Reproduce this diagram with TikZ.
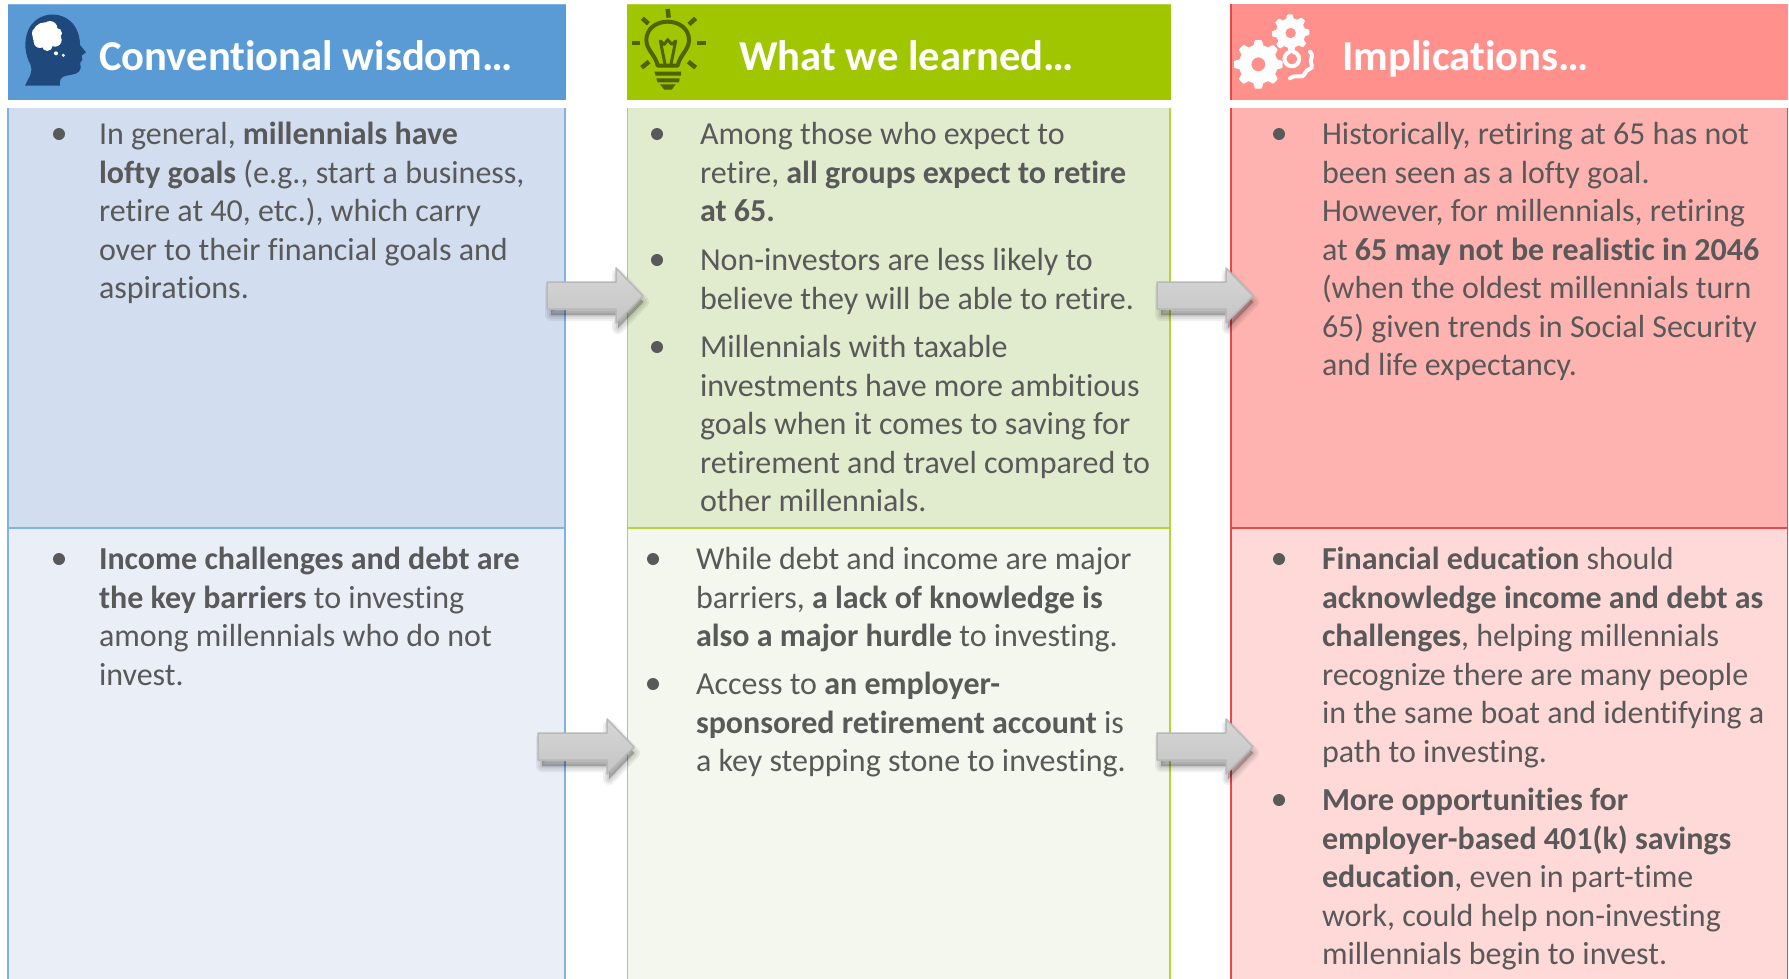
\documentclass[tikz,border=0pt]{standalone}
\usepackage{fontspec}
\setmainfont{Carlito}[Ligatures=NoCommon]
\usetikzlibrary{calc}
\definecolor{txt}{HTML}{595959}
\definecolor{bluehead}{HTML}{5B9BD5}
\definecolor{blueone}{HTML}{D2DEEF}
\definecolor{bluetwo}{HTML}{E9EEF7}
\definecolor{blueline}{HTML}{7FB2E5}
\definecolor{headdark}{HTML}{1F497D}
\definecolor{greenhead}{HTML}{A0C600}
\definecolor{greenone}{HTML}{E1EBCE}
\definecolor{greentwo}{HTML}{F3F7ED}
\definecolor{greenline}{HTML}{B5D33D}
\definecolor{bulbdark}{HTML}{4F6300}
\definecolor{redhead}{HTML}{FF908B}
\definecolor{redone}{HTML}{FFB3B0}
\definecolor{redtwo}{HTML}{FFD9D8}
\definecolor{redline}{HTML}{E8474C}
\tikzset{
  x=1pt,y=-1pt,
  para/.style={anchor=north west,inner sep=0pt,outer sep=0pt,align=left,text=txt,yshift=1.5pt,
    font=\fontsize{32}{38.5}\selectfont,execute at begin node=\strut},
  headtext/.style={anchor=base west,inner sep=0pt,text=white,font=\fontsize{42.6}{48}\selectfont\bfseries},
  bulletdot/.style={circle,fill=txt,inner sep=0pt,minimum size=12pt},
  rays/.style={line width=4.5pt,bulbdark},
  bulbline/.style={line width=4pt,bulbdark,line join=round,line cap=round},
  pics/blockarrow/.style={code={
    \foreach \w in {12,8,4,1}{
      \fill[black,opacity=.06,draw=black,line width=\w pt,line join=round]
       (4,6) -- (4,33) -- (71,33) -- (71,46) -- (96,20) -- (71,-7) -- (71,6) -- cycle;}
    \draw[draw=black!28,line width=1.5pt,top color=black!16,bottom color=black!23,line join=round]
       (0,0) -- (0,27) -- (69,27) -- (69,41) -- (96,14) -- (69,-14) -- (69,0) -- cycle;
  }}
}
\newcommand{\gearicon}[6]{% cx cy outer root hole phase
  \fill[white,even odd rule] plot[domain=0:360,samples=160,smooth cycle]
    ({#1+(#4+(#3-#4)*0.5*(1+max(-1,min(1,2.2*cos(8*\x+#6)))))*cos(\x)},
     {#2+(#4+(#3-#4)*0.5*(1+max(-1,min(1,2.2*cos(8*\x+#6)))))*sin(\x)})
    (#1+#5,#2) arc[start angle=0,end angle=360,radius=#5];}
\begin{document}
\begin{tikzpicture}
\useasboundingbox (0,0) rectangle (1789,978);
\fill[white] (0,0) rectangle (1789,978);
% panels
\fill[bluehead] (8,4) rectangle (565.5,100);
\fill[greenhead] (627,4) rectangle (1170.5,100);
\fill[redhead] (1231,4) rectangle (1787.5,100);
\draw[blueline,line width=1pt] (8,4) -- (565.5,4);
\draw[greenline,line width=1pt] (627,4) -- (1170.5,4);
\fill[blueone] (8,108) rectangle (565,528);
\fill[bluetwo] (8,528) rectangle (565,980);
\fill[greenone] (627.5,108) rectangle (1170,528);
\fill[greentwo] (627.5,528) rectangle (1170,980);
\fill[redone] (1231,108) rectangle (1787.5,528);
\fill[redtwo] (1231,528) rectangle (1787.5,980);
\draw[blueline,line width=1.5pt] (8,108) -- (8,980) (565,108) -- (565,980) (8,528) -- (565,528);
\draw[greenline,line width=1.5pt] (627.5,108) -- (627.5,980) (1170,108) -- (1170,980) (627.5,528) -- (1170,528);
\draw[redline,line width=1.2pt] (1231,108) -- (1231,980) (1787.5,108) -- (1787.5,980) (1231,528) -- (1787.5,528);
\draw[redline,line width=1.2pt] (1231,4) -- (1231,100);
% titles
\node[headtext] (t1) at (99,70) {Conventional wisdom…};
\node[headtext] (t2) at (739,70) {What we learned…};
\node[headtext] (t3) at (1342,70) {Implications…};
% head icon
\begin{scope}[shift={(10,5)},x=0.3333pt,y=-0.3333pt]
\fill[headdark] (45,242) .. controls (58,215) and (70,200) .. (62,180)
  .. controls (45,150) and (40,110) .. (55,75)
  .. controls (75,30) and (125,20) .. (160,35)
  .. controls (195,50) and (210,85) .. (210,120)
  -- (228,142) -- (215,152) -- (217,165) -- (211,172) -- (212,190)
  .. controls (208,208) and (190,208) .. (170,212)
  .. controls (150,215) and (148,228) .. (150,242) -- cycle;
\fill[white] (105,90) circle (38) (85,85) circle (19) (90,110) circle (19) (120,70) circle (22)
  (135,105) circle (20) (112,122) circle (16) (140,85) circle (16) (138,145) circle (6) (160,151) circle (5);
\end{scope}
% bulb icon
\begin{scope}[shift={(625,5)},x=0.3333pt,y=-0.3333pt]
\draw[bulbline] (98,182) .. controls (92,150) and (64,135) .. (64,105)
  .. controls (64,70) and (95,50) .. (128,50) .. controls (161,50) and (192,70) .. (192,105)
  .. controls (192,135) and (164,150) .. (158,182) -- cycle;
\draw[bulbline,line width=3pt] (120,178) -- (106,108) -- (118,118) -- (128,104) -- (140,118) -- (152,108) -- (138,178);
\draw[rays] (128,12) -- (131,38);
\draw[rays] (52,40) -- (70,56);
\draw[rays] (212,40) -- (192,58);
\draw[rays] (20,114) -- (46,114);
\draw[rays] (216,114) -- (242,114);
\draw[rays] (50,188) -- (72,170);
\draw[rays] (212,188) -- (190,170);
\fill[bulbdark] (88,200) -- (168,200) -- (168,212) -- (92,212) -- cycle;
\fill[bulbdark] (94,220) -- (164,220) -- (162,232) -- (98,232) -- cycle;
\fill[bulbdark] (105,238) -- (152,238) -- (140,254) -- (118,254) -- cycle;
\end{scope}
% gears icon
\begin{scope}[shift={(1230,5)},x=0.3333pt,y=-0.3333pt]
\gearicon{85}{178}{73}{58}{21}{0}
\gearicon{182}{84}{56}{44}{16}{22}
\draw[white,line width=4pt,line cap=round] (178,141) arc[start angle=250,end angle=-80,radius=22];
\draw[white,line width=4pt,line cap=round] (240,140) .. controls (255,155) and (235,165) .. (245,180)
  .. controls (250,195) and (228,190) .. (225,205) .. controls (215,225) and (200,205) .. (180,220);
\end{scope}
% arrows
\pic (a1) at (547,282) {blockarrow};
\pic (a2) at (1157,282) {blockarrow};
\pic (a3) at (538,733) {blockarrow};
\pic (a4) at (1157,733) {blockarrow};
% column 1
\node[bulletdot] (b11) at (59,134) {};
\node[para] (p11) at (99,124) {In general, \textbf{millennials have}\\\textbf{lofty goals} (e.g., start a business,\\retire at 40, etc.), which carry\\over to their financial goals and\\aspirations.};
\node[bulletdot] (b12) at (59,559) {};
\node[para] (p12) at (99,549) {\textbf{Income challenges and debt are}\\\textbf{the key barriers} to investing\\among millennials who do not\\invest.};
% column 2
\node[bulletdot] (b21) at (657,134) {};
\node[para] (p21) at (700,124) {Among those who expect to\\retire, \textbf{all groups expect to retire}\\\textbf{at 65.}};
\node[bulletdot] (b22) at (657,260) {};
\node[para] (p22) at (700,250) {Non-investors are less likely to\\believe they will be able to retire.};
\node[bulletdot] (b23) at (657,347) {};
\node[para] (p23) at (700,337) {Millennials with taxable\\investments have more ambitious\\goals when it comes to saving for\\retirement and travel compared to\\other millennials.};
\node[bulletdot] (b24) at (653,559) {};
\node[para] (p24) at (696,549) {While debt and income are major\\barriers, \textbf{a lack of knowledge is}\\\textbf{also a major hurdle} to investing.};
\node[bulletdot] (b25) at (653,684) {};
\node[para] (p25) at (696,674) {Access to \textbf{an employer-}\\\textbf{sponsored retirement account} is\\a key stepping stone to investing.};
% column 3
\node[bulletdot] (b31) at (1279,134) {};
\node[para] (p31) at (1322,124) {Historically, retiring at 65 has not\\been seen as a lofty goal.\\However, for millennials, retiring\\at \textbf{65 may not be realistic in 2046}\\(when the oldest millennials turn\\65) given trends in Social Security\\and life expectancy.};
\node[bulletdot] (b32) at (1279,559) {};
\node[para] (p32) at (1322,549) {\textbf{Financial education} should\\\textbf{acknowledge income and debt as}\\\textbf{challenges}, helping millennials\\recognize there are many people\\in the same boat and identifying a\\path to investing.};
\node[bulletdot] (b33) at (1279,800) {};
\node[para] (p33) at (1322,790) {\textbf{More opportunities for}\\\textbf{employer-based 401(k) savings}\\\textbf{education}, even in part-time\\work, could help non-investing\\millennials begin to invest.};
\end{tikzpicture}
\end{document}
